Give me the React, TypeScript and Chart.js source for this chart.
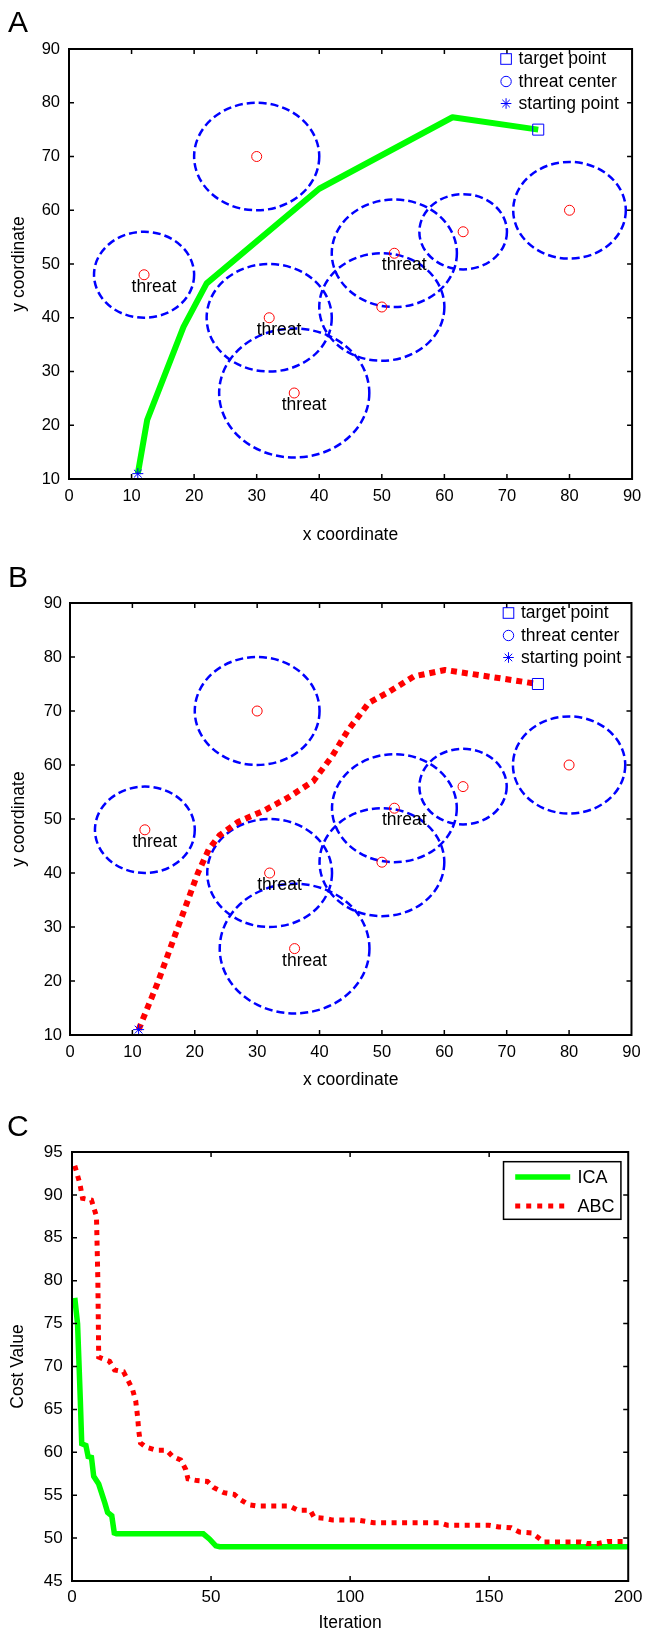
import React, { useEffect, useRef } from "react";
import { Chart, registerables } from "chart.js";

Chart.register(...registerables);

const FONT = "'Liberation Sans', Arial, Helvetica, sans-serif";
const BLUE = "#0000ff";
const RED = "#ff0000";
const GREEN = "#00ff00";

// ---------- Panels A and B: the threat map ----------
const xTicksMap = [0, 10, 20, 30, 40, 50, 60, 70, 80, 90];
const yTicksMap = [10, 20, 30, 40, 50, 60, 70, 80, 90];
const threatX = [30, 12, 32, 36, 50, 52, 63, 80];
const threatY = [70, 48, 40, 26, 42, 52, 56, 60];
const threatR = [10, 8, 10, 12, 10, 10, 7, 9];
const threatLabelled = [false, true, true, true, false, true, false, false];
const threatLabel = "threat";
const startX = [11];
const startY = [11];
const targetX = [75];
const targetY = [75];
const mapLegendLabels = ["target point", "threat center", "starting point"];

const icaPathX = [11, 12.5, 18.3, 22, 40, 61.3, 75];
const icaPathY = [11, 21, 38.3, 46.4, 64, 77.3, 75];
const abcPathX = [11, 14, 17, 20.5, 22.3, 24, 27, 31, 35, 39, 42, 44.6, 47.9, 51.2, 55.1, 60.1, 75];
const abcPathY = [11, 19.5, 29, 40, 44.5, 47, 49.5, 51.5, 54, 57, 61.6, 66.5, 71.5, 73.6, 76.4, 77.6, 75];

// ---------- Panel C: convergence ----------
const xTicksCost = [0, 50, 100, 150, 200];
const yTicksCost = [45, 50, 55, 60, 65, 70, 75, 80, 85, 90, 95];
const seriesNames = ["ICA", "ABC"];
const icaIter = [1, 2, 3, 3.5, 5, 5.8, 7, 7.8, 9.6, 11.8, 12.8, 14.3, 15.2, 16, 47.2, 49.4, 51.7, 53.1, 200];
const icaCost = [78, 75, 66, 61, 60.8, 59.5, 59.4, 57.2, 56.3, 54.1, 53, 52.6, 50.6, 50.5, 50.5, 49.9, 49.1, 49.0, 49.0];
const abcIter = [1, 2.8, 3.8, 7, 8.8, 9.3, 9.6, 13.5, 15.3, 18.5, 21.7, 22.9, 23.6, 24, 24.6, 26.6, 30.3, 34, 36.2, 39.1, 40.9, 41.7, 45, 48.7, 50.9, 54.6, 58.3, 60.5, 63.5, 66.4, 78.2, 81.2, 85.6, 87.1, 90.8, 93.7, 102.6, 108.5, 132, 135, 149.8, 153.5, 157.9, 160.9, 165.3, 167.5, 169.7, 183, 185.2, 188.9, 192.6, 200];
const abcCost = [93.4, 91.35, 89.6, 89.4, 87.5, 80, 71.1, 70.6, 69.6, 69.4, 67.4, 66, 64.1, 62.5, 61.1, 60.6, 60.25, 60.25, 59.5, 59.1, 58.0, 56.9, 56.7, 56.6, 55.9, 55.3, 55.1, 54.5, 53.9, 53.75, 53.75, 53.25, 53.25, 52.4, 52.3, 52.1, 52.1, 51.8, 51.8, 51.5, 51.5, 51.3, 51.2, 50.7, 50.6, 50.1, 49.55, 49.55, 49.36, 49.36, 49.6, 49.6];

const toPoints = (xs: number[], ys: number[]) => xs.map((x, i) => ({ x, y: ys[i] }));

// ---------- shared plugins ----------
const framePlugin = {
  id: "frame",
  afterDatasetsDraw(chart: any) {
    const { ctx, chartArea: a, scales } = chart;
    const tl = 5;
    ctx.save();
    ctx.strokeStyle = "#000";
    ctx.lineWidth = 1.5;
    ctx.setLineDash([]);
    ctx.beginPath();
    scales.x.ticks.forEach((t: any) => {
      const px = scales.x.getPixelForValue(t.value);
      if (px <= a.left + 1 || px >= a.right - 1) return;
      ctx.moveTo(px, a.bottom);
      ctx.lineTo(px, a.bottom - tl);
      ctx.moveTo(px, a.top);
      ctx.lineTo(px, a.top + tl);
    });
    scales.y.ticks.forEach((t: any) => {
      const py = scales.y.getPixelForValue(t.value);
      if (py <= a.top + 1 || py >= a.bottom - 1) return;
      ctx.moveTo(a.left, py);
      ctx.lineTo(a.left + tl, py);
      ctx.moveTo(a.right, py);
      ctx.lineTo(a.right - tl, py);
    });
    ctx.stroke();
    ctx.lineWidth = 2;
    ctx.strokeRect(a.left, a.top, a.right - a.left, a.bottom - a.top);
    ctx.restore();
  },
};

const letterPlugin = (letter: string, x: number, y: number) => ({
  id: "letter" + letter,
  afterDraw(chart: any) {
    const ctx = chart.ctx;
    ctx.save();
    ctx.fillStyle = "#000";
    ctx.font = `30px ${FONT}`;
    ctx.textAlign = "left";
    ctx.textBaseline = "alphabetic";
    ctx.fillText(letter, x, y);
    ctx.restore();
  },
});

const circlesPlugin = {
  id: "threatCircles",
  beforeDatasetsDraw(chart: any) {
    const { ctx, scales } = chart;
    const xs = scales.x;
    const ys = scales.y;
    ctx.save();
    ctx.strokeStyle = BLUE;
    ctx.lineWidth = 2.5;
    ctx.setLineDash([8, 4]);
    threatX.forEach((cx, i) => {
      const px = xs.getPixelForValue(cx);
      const py = ys.getPixelForValue(threatY[i]);
      const rx = Math.abs(xs.getPixelForValue(cx + threatR[i]) - px);
      const ry = Math.abs(ys.getPixelForValue(threatY[i] + threatR[i]) - py);
      ctx.beginPath();
      ctx.ellipse(px, py, rx, ry, 0, 0, Math.PI * 2);
      ctx.stroke();
    });
    ctx.restore();
  },
};

const threatLabelPlugin = {
  id: "threatLabels",
  afterDatasetsDraw(chart: any) {
    const { ctx, scales } = chart;
    ctx.save();
    ctx.fillStyle = "#000";
    ctx.font = `17.5px ${FONT}`;
    ctx.textAlign = "left";
    ctx.textBaseline = "alphabetic";
    threatX.forEach((cx, i) => {
      if (!threatLabelled[i]) return;
      ctx.fillText(threatLabel, scales.x.getPixelForValue(cx - 2), scales.y.getPixelForValue(threatY[i] - 3.2));
    });
    ctx.restore();
  },
};

const mapLegendPlugin = (markerFromRight: number) => ({
  id: "mapLegend",
  afterDraw(chart: any) {
    const { ctx, chartArea: a } = chart;
    const mx = a.right - markerFromRight;
    const tx = mx + 12.5;
    const rows = [a.top + 10, a.top + 32.5, a.top + 54.5];
    ctx.save();
    ctx.strokeStyle = BLUE;
    ctx.lineWidth = 1;
    ctx.setLineDash([]);
    // square
    ctx.strokeRect(mx - 5.3, rows[0] - 5.3, 10.6, 10.6);
    // circle
    ctx.beginPath();
    ctx.arc(mx, rows[1], 5.2, 0, Math.PI * 2);
    ctx.stroke();
    // asterisk
    const r = 5.3;
    ctx.beginPath();
    for (let k = 0; k < 4; k++) {
      const ang = (k * Math.PI) / 4;
      ctx.moveTo(mx - Math.cos(ang) * r, rows[2] - Math.sin(ang) * r);
      ctx.lineTo(mx + Math.cos(ang) * r, rows[2] + Math.sin(ang) * r);
    }
    ctx.stroke();
    ctx.fillStyle = "#000";
    ctx.font = `17.5px ${FONT}`;
    ctx.textAlign = "left";
    ctx.textBaseline = "middle";
    mapLegendLabels.forEach((lab, i) => ctx.fillText(lab, tx, rows[i] + 0.5));
    ctx.restore();
  },
});

const costLegendPlugin = {
  id: "costLegend",
  afterDraw(chart: any) {
    const { ctx, chartArea: a } = chart;
    const bx = a.right - 124.7;
    const by = a.top + 9.7;
    const bw = 117.4;
    const bh = 57.6;
    ctx.save();
    ctx.fillStyle = "#fff";
    ctx.fillRect(bx, by, bw, bh);
    ctx.strokeStyle = "#000";
    ctx.lineWidth = 1.5;
    ctx.setLineDash([]);
    ctx.strokeRect(bx, by, bw, bh);
    const rows = [a.top + 25, a.top + 54];
    ctx.lineCap = "butt";
    ctx.strokeStyle = GREEN;
    ctx.lineWidth = 5.5;
    ctx.beginPath();
    ctx.moveTo(bx + 11.7, rows[0]);
    ctx.lineTo(bx + 66.7, rows[0]);
    ctx.stroke();
    ctx.strokeStyle = RED;
    ctx.lineWidth = 5;
    ctx.setLineDash([5, 6]);
    ctx.beginPath();
    ctx.moveTo(bx + 11.7, rows[1]);
    ctx.lineTo(bx + 66.7, rows[1]);
    ctx.stroke();
    ctx.setLineDash([]);
    ctx.fillStyle = "#000";
    ctx.font = `18px ${FONT}`;
    ctx.textAlign = "left";
    ctx.textBaseline = "middle";
    ctx.fillText(seriesNames[0], bx + 74, rows[0] + 1.5);
    ctx.fillText(seriesNames[1], bx + 74, rows[1] + 1.5);
    ctx.restore();
  },
};

type PanelLayout = {
  top: number;
  height: number;
  padLeft: number;
  padRight: number;
  padTop: number;
  yAxisW: number;
  xAxisH: number;
  xTickPad: number;
  yTickPad: number;
  xTitlePad: number;
  yTitlePad: number;
  tickSize: number;
};

const layoutA: PanelLayout = { top: 0, height: 560, padLeft: 4, padRight: 14, padTop: 49, yAxisW: 65, xAxisH: 81, xTickPad: 8.75, yTickPad: 9, xTitlePad: 15.6, yTitlePad: 6.25, tickSize: 16.5 };
const layoutB: PanelLayout = { top: 560, height: 530, padLeft: 4, padRight: 14, padTop: 43, yAxisW: 66, xAxisH: 55, xTickPad: 9.35, yTickPad: 8, xTitlePad: 0.65, yTitlePad: 6.2, tickSize: 16.5 };
const layoutC: PanelLayout = { top: 1090, height: 541, padLeft: 4, padRight: 16, padTop: 62, yAxisW: 68, xAxisH: 50, xTickPad: 7.6, yTickPad: 9.3, xTitlePad: -1, yTitlePad: 5.5, tickSize: 17 };

function axes(L: PanelLayout, xTicks: number[], yTicks: number[], xTitle: string, yTitle: string) {
  const tickFont = { family: FONT, size: L.tickSize, lineHeight: 1 };
  const titleFont = { family: FONT, size: 17.5, lineHeight: 1 };
  return {
    x: {
      type: "linear",
      min: xTicks[0],
      max: xTicks[xTicks.length - 1],
      afterBuildTicks: (s: any) => {
        s.ticks = xTicks.map((v) => ({ value: v }));
      },
      afterFit: (s: any) => {
        s.height = L.xAxisH;
      },
      grid: { display: false, drawTicks: false },
      border: { display: false },
      ticks: { color: "#000", font: tickFont, padding: L.xTickPad, maxRotation: 0, autoSkip: false },
      title: { display: true, text: xTitle, color: "#000", font: titleFont, padding: { top: 0, bottom: L.xTitlePad } },
    },
    y: {
      type: "linear",
      min: yTicks[0],
      max: yTicks[yTicks.length - 1],
      afterBuildTicks: (s: any) => {
        s.ticks = yTicks.map((v) => ({ value: v }));
      },
      afterFit: (s: any) => {
        s.width = L.yAxisW;
      },
      grid: { display: false, drawTicks: false },
      border: { display: false },
      ticks: { color: "#000", font: tickFont, padding: L.yTickPad, autoSkip: false },
      title: { display: true, text: yTitle, color: "#000", font: titleFont, padding: { top: L.yTitlePad, bottom: 0 } },
    },
  };
}

function baseOptions(L: PanelLayout, scales: any) {
  return {
    responsive: false,
    animation: false,
    events: [],
    layout: { padding: { left: L.padLeft, right: L.padRight, top: L.padTop, bottom: 0 } },
    plugins: { legend: { display: false }, tooltip: { enabled: false }, title: { display: false } },
    scales,
  };
}

function mapConfig(L: PanelLayout, pathX: number[], pathY: number[], color: string, dash: number[], letter: string, letterX: number, letterY: number, legendFromRight: number) {
  return {
    type: "scatter",
    data: {
      datasets: [
        {
          label: "target point",
          data: toPoints(targetX, targetY),
          pointStyle: "rect",
          pointRadius: 7.8,
          borderColor: BLUE,
          backgroundColor: "rgba(0,0,0,0)",
          pointBorderWidth: 1,
          order: 0,
        },
        {
          label: "starting point",
          data: toPoints(startX, startY),
          pointStyle: "star",
          pointRadius: 5.5,
          borderColor: BLUE,
          backgroundColor: "rgba(0,0,0,0)",
          pointBorderWidth: 1,
          order: 1,
        },
        {
          label: "threat center",
          data: toPoints(threatX, threatY),
          pointStyle: "circle",
          pointRadius: 5,
          borderColor: RED,
          backgroundColor: "rgba(0,0,0,0)",
          pointBorderWidth: 1,
          order: 2,
        },
        {
          label: "path",
          data: toPoints(pathX, pathY),
          showLine: true,
          borderColor: color,
          backgroundColor: color,
          borderWidth: 6,
          borderDash: dash,
          borderCapStyle: "butt",
          borderJoinStyle: "round",
          pointRadius: 0,
          order: 3,
        },
      ],
    },
    options: baseOptions(L, axes(L, xTicksMap, yTicksMap, "x coordinate", "y coordinate")),
    plugins: [circlesPlugin, framePlugin, threatLabelPlugin, mapLegendPlugin(legendFromRight), letterPlugin(letter, letterX, letterY)],
  };
}

function costConfig() {
  const L = layoutC;
  return {
    type: "scatter",
    data: {
      datasets: [
        {
          label: seriesNames[1],
          data: toPoints(abcIter, abcCost),
          showLine: true,
          borderColor: RED,
          backgroundColor: RED,
          borderWidth: 5,
          borderDash: [5, 5.5],
          borderCapStyle: "butt",
          pointRadius: 0,
          order: 0,
        },
        {
          label: seriesNames[0],
          data: toPoints(icaIter, icaCost),
          showLine: true,
          borderColor: GREEN,
          backgroundColor: GREEN,
          borderWidth: 5.5,
          pointRadius: 0,
          order: 1,
        },
      ],
    },
    options: baseOptions(L, axes(L, xTicksCost, yTicksCost, "Iteration", "Cost Value")),
    plugins: [framePlugin, costLegendPlugin, letterPlugin("C", 7, 46)],
  };
}

function Panel({ layout, makeConfig }: { layout: PanelLayout; makeConfig: () => any }) {
  const ref = useRef<HTMLCanvasElement>(null);
  useEffect(() => {
    const chart = new Chart(ref.current as HTMLCanvasElement, makeConfig());
    return () => chart.destroy();
  }, []);
  return (
    <div style={{ position: "absolute", left: 0, top: layout.top, width: 650, height: layout.height }}>
      <canvas ref={ref} width={650} height={layout.height} style={{ display: "block" }} />
    </div>
  );
}

export default function App() {
  return (
    <div style={{ position: "absolute", left: 0, top: 0, width: 650, height: 1631, background: "#fff", overflow: "hidden" }}>
      <Panel layout={layoutA} makeConfig={() => mapConfig(layoutA, icaPathX, icaPathY, GREEN, [], "A", 8, 31.7, 126)} />
      <Panel layout={layoutB} makeConfig={() => mapConfig(layoutB, abcPathX, abcPathY, RED, [6, 5], "B", 8, 27.3, 123)} />
      <Panel layout={layoutC} makeConfig={costConfig} />
    </div>
  );
}
